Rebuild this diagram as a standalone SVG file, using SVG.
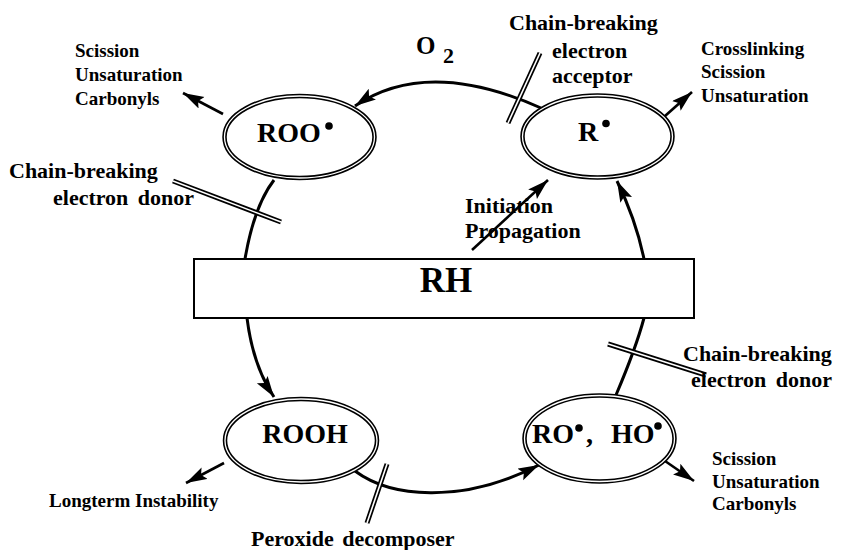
<svg xmlns="http://www.w3.org/2000/svg" width="866" height="550" viewBox="0 0 866 550">
  <style>
    text { font-family: "Liberation Serif", "Times New Roman", serif; font-weight: bold; fill: #000; }
    .lbl { font-size: 19px; }
    .big { font-size: 22px; }
    .node { font-size: 28px; }
    .rim { fill: #fff; stroke: #000; stroke-width: 4.5; }
    .rim-gap { fill: none; stroke: #fff; stroke-width: 1.3; }
    .flow { fill: none; stroke: #000; stroke-width: 3; }
    .out { fill: none; stroke: #000; stroke-width: 2.6; }
    .bar { stroke: #000; stroke-width: 5; stroke-linecap: butt; }
    .bar-gap { stroke: #fff; stroke-width: 1.6; stroke-linecap: butt; }
  </style>
  <defs>
    <marker id="head" markerUnits="userSpaceOnUse" markerWidth="24" markerHeight="14" refX="21" refY="6.5" orient="auto">
      <path d="M0,0 L21,6.5 L0,13 L4,6.5 z" fill="#000"/>
    </marker>
  </defs>
  <rect width="866" height="550" fill="#fff"/>

  <!-- connectors -->
  <g id="connectors">
    <!-- R. to ROO. via O2 -->
    <path class="flow" d="M541,108 Q427,57 355,106" marker-end="url(#head)"/>
    <!-- ROO. to RH -->
    <path class="flow" d="M274,180 Q254,206 245,259"/>
    <!-- RH to ROOH -->
    <path class="flow" d="M247,318 Q253,366 274,397" marker-end="url(#head)"/>
    <!-- ROOH to RO., HO. -->
    <path class="flow" d="M355,471 C390,497 460,505 539,465" marker-end="url(#head)"/>
    <!-- RO., HO. to RH -->
    <path class="flow" d="M616,395 Q636,348 644,318"/>
    <!-- RH to R. -->
    <path class="flow" d="M644,259 Q636,220 617,181" marker-end="url(#head)"/>
    <!-- initiation / propagation -->
    <path class="out" d="M472,250 L548,180" marker-end="url(#head)"/>
    <!-- product arrows -->
    <path class="out" d="M223,114 L183,93" marker-end="url(#head)"/>
    <path class="out" d="M665,116 L692,92" marker-end="url(#head)"/>
    <path class="out" d="M224,463 L186,483" marker-end="url(#head)"/>
    <path class="out" d="M665,461 L694,481" marker-end="url(#head)"/>
  </g>

  <!-- antioxidant intervention bars -->
  <g id="bars">
    <line class="bar" x1="173" y1="181" x2="281" y2="222"/>
    <line class="bar-gap" x1="173" y1="181" x2="281" y2="222"/>
    <line class="bar" x1="540" y1="53" x2="508" y2="123"/>
    <line class="bar-gap" x1="540" y1="53" x2="508" y2="123"/>
    <line class="bar" x1="608" y1="344" x2="706" y2="375"/>
    <line class="bar-gap" x1="608" y1="344" x2="706" y2="375"/>
    <line class="bar" x1="387" y1="464" x2="367" y2="523"/>
    <line class="bar-gap" x1="387" y1="464" x2="367" y2="523"/>
  </g>

  <!-- RH substrate -->
  <g id="rh">
    <rect x="194" y="259" width="500" height="59" fill="#fff" stroke="#000" stroke-width="2"/>
    <text x="446" y="292" font-size="35" text-anchor="middle">RH</text>
  </g>

  <g id="roo">
    <ellipse class="rim" cx="299.5" cy="137" rx="75" ry="41"/>
    <ellipse class="rim-gap" cx="299.5" cy="137" rx="75" ry="41"/>
    <text class="node" x="257" y="142">ROO</text>
    <circle cx="329" cy="126" r="3.8"/>
  </g>

  <g id="r">
    <ellipse class="rim" cx="597.5" cy="136.5" rx="75" ry="41"/>
    <ellipse class="rim-gap" cx="597.5" cy="136.5" rx="75" ry="41"/>
    <text class="node" x="578" y="141">R</text>
    <circle cx="606" cy="123.5" r="3.8"/>
  </g>

  <g id="rooh">
    <ellipse class="rim" cx="301" cy="440.5" rx="76" ry="41.5"/>
    <ellipse class="rim-gap" cx="301" cy="440.5" rx="76" ry="41.5"/>
    <text class="node" x="305" y="443" text-anchor="middle">ROOH</text>
  </g>

  <g id="ro-ho">
    <ellipse class="rim" cx="599.5" cy="438.5" rx="75" ry="43"/>
    <ellipse class="rim-gap" cx="599.5" cy="438.5" rx="75" ry="43"/>
    <text class="node" x="532" y="443">RO</text>
    <circle cx="579" cy="428" r="3.8"/>
    <text class="node" x="586" y="443">,</text>
    <text class="node" x="611" y="443">HO</text>
    <circle cx="658" cy="426" r="3.8"/>
  </g>

  <!-- labels -->
  <g id="labels">
    <text x="416" y="54" font-size="25">O</text>
    <text x="443" y="63" font-size="22">2</text>

    <text class="lbl" x="75" y="57">Scission</text>
    <text class="lbl" x="75" y="81">Unsaturation</text>
    <text class="lbl" x="75" y="105">Carbonyls</text>

    <text class="big" x="9" y="178">Chain-breaking</text>
    <text class="big" x="53" y="205" word-spacing="4">electron donor</text>

    <text class="big" x="509" y="30">Chain-breaking</text>
    <text class="big" x="552" y="58">electron</text>
    <text class="big" x="552" y="83">acceptor</text>

    <text class="lbl" x="701" y="55">Crosslinking</text>
    <text class="lbl" x="701" y="78">Scission</text>
    <text class="lbl" x="701" y="102">Unsaturation</text>

    <text class="big" x="465" y="213">Initiation</text>
    <text class="big" x="465" y="238">Propagation</text>

    <text class="big" x="683" y="361">Chain-breaking</text>
    <text class="big" x="691" y="387" word-spacing="4">electron donor</text>

    <text class="lbl" x="712" y="465">Scission</text>
    <text class="lbl" x="712" y="488">Unsaturation</text>
    <text class="lbl" x="712" y="510">Carbonyls</text>

    <text class="lbl" x="49" y="507">Longterm Instability</text>
    <text class="big" x="251" y="546" word-spacing="3">Peroxide decomposer</text>
  </g>
</svg>
